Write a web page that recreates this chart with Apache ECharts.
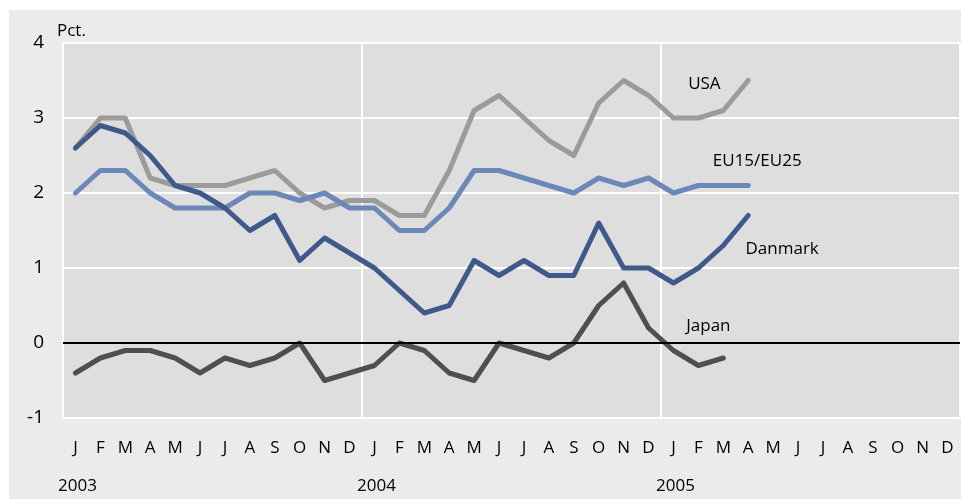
<!DOCTYPE html>
<html>
<head>
<meta charset="utf-8">
<script src="https://cdn.jsdelivr.net/npm/echarts@6/dist/echarts.min.js"></script>
<style>
  html, body { margin: 0; padding: 0; background: #fff; }
  #chart { width: 961px; height: 499px; }
</style>
</head>
<body>
<div id="chart"></div>
<script>
// months Jan 2003 - Dec 2005
var months = ['J','F','M','A','M','J','J','A','S','O','N','D',
              'J','F','M','A','M','J','J','A','S','O','N','D',
              'J','F','M','A','M','J','J','A','S','O','N','D'];
var years = ['2003','','','','','','','','','','','',
             '2004','','','','','','','','','','','',
             '2005','','','','','','','','','','',''];

var usa = [2.6, 3.0, 3.0, 2.2, 2.1, 2.1, 2.1, 2.2, 2.3, 2.0, 1.8, 1.9,
           1.9, 1.7, 1.7, 2.3, 3.1, 3.3, 3.0, 2.7, 2.5, 3.2, 3.5, 3.3,
           3.0, 3.0, 3.1, 3.5];
var eu = [2.0, 2.3, 2.3, 2.0, 1.8, 1.8, 1.8, 2.0, 2.0, 1.9, 2.0, 1.8,
          1.8, 1.5, 1.5, 1.8, 2.3, 2.3, 2.2, 2.1, 2.0, 2.2, 2.1, 2.2,
          2.0, 2.1, 2.1, 2.1];
var danmark = [2.6, 2.9, 2.8, 2.5, 2.1, 2.0, 1.8, 1.5, 1.7, 1.1, 1.4, 1.2,
               1.0, 0.7, 0.4, 0.5, 1.1, 0.9, 1.1, 0.9, 0.9, 1.6, 1.0, 1.0,
               0.8, 1.0, 1.3, 1.7];
var japan = [-0.4, -0.2, -0.1, -0.1, -0.2, -0.4, -0.2, -0.3, -0.2, 0.0, -0.5, -0.4,
             -0.3, 0.0, -0.1, -0.4, -0.5, 0.0, -0.1, -0.2, 0.0, 0.5, 0.8, 0.2,
             -0.1, -0.3, -0.2];

var font = 'Open Sans';
var chart = echarts.init(document.getElementById('chart'));

function nameTag(name, idx, val, dx) {
    return {
        silent: true,
        symbolSize: 0,
        data: [{
            coord: [idx, val],
            label: {
                show: true, position: 'inside', formatter: name, offset: [dx, 0],
                color: '#000', fontFamily: font, fontSize: 17
            }
        }]
    };
}

function line(name, data, color, tag) {
    return {
        name: name,
        type: 'line',
        data: data,
        symbol: 'none',
        lineStyle: { color: color, width: 5, cap: 'round', join: 'round' },
        itemStyle: { color: color },
        markPoint: tag,
        z: 3
    };
}

var series = [
    line('USA', usa, '#9b9b9b', nameTag('USA', 25, 3.45, 6)),
    line('EU15/EU25', eu, '#6c88b8', nameTag('EU15/EU25', 27, 2.43, 9)),
    line('Danmark', danmark, '#3f5a8a', nameTag('Danmark', 28, 1.25, 9)),
    line('Japan', japan, '#4f4f4f', nameTag('Japan', 25, 0.23, 10))
];
series[3].markLine = {
    silent: true,
    symbol: 'none',
    label: { show: false },
    lineStyle: { color: '#000', width: 2, type: 'solid' },
    data: [{ yAxis: 0 }]
};

chart.setOption({
    animation: false,
    backgroundColor: '#fff',
    graphic: [{
        type: 'rect', z: -10, silent: true,
        shape: { x: 9, y: 10, width: 952, height: 489 },
        style: { fill: '#ebebeb' }
    }],
    grid: {
        left: 63, right: 1, top: 43, bottom: 81,
        show: true, backgroundColor: '#dedede', borderWidth: 0
    },
    xAxis: [{
        type: 'category',
        data: months,
        boundaryGap: true,
        axisLine: { show: false },
        axisTick: { show: false },
        axisLabel: { interval: 0, margin: 22, color: '#000', fontFamily: font, fontSize: 17 },
        splitLine: {
            show: true,
            interval: function (i) { return i === 12 || i === 24; },
            lineStyle: { color: '#fff', width: 2 }
        }
    }, {
        type: 'category',
        data: years,
        position: 'bottom',
        boundaryGap: true,
        axisLine: { show: false },
        axisTick: { show: false },
        splitLine: { show: false },
        axisLabel: { interval: 0, margin: 60, color: '#000', fontFamily: font, fontSize: 17,
                     padding: [0, 0, 0, 4] }
    }],
    yAxis: {
        type: 'value',
        min: -1, max: 4, interval: 1,
        name: 'Pct.',
        nameLocation: 'end',
        nameGap: 3,
        nameTextStyle: { align: 'left', color: '#000', fontFamily: font, fontSize: 17, padding: [0, 0, 0, -6] },
        axisLine: { show: true, lineStyle: { color: '#fff', width: 2 } },
        axisTick: { show: false },
        axisLabel: { margin: 19, color: '#000', fontFamily: font, fontSize: 19 },
        splitLine: { lineStyle: { color: '#fff', width: 2 } }
    },
    series: series
});
</script>
</body>
</html>
